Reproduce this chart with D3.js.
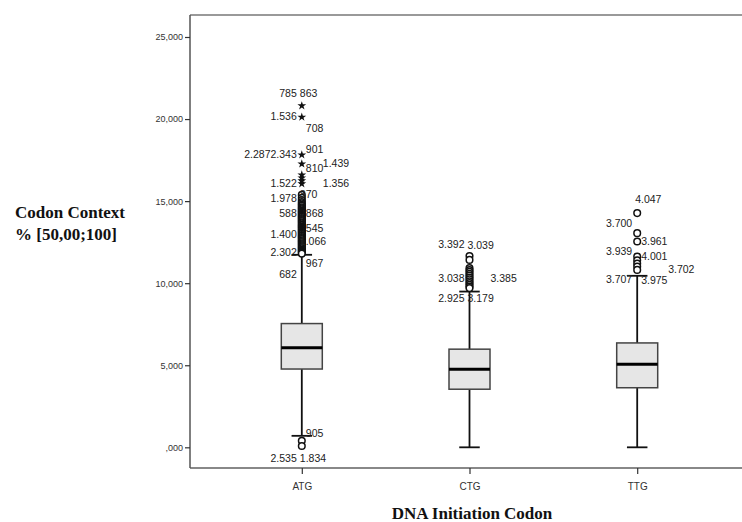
<!DOCTYPE html>
<html lang="en">
<head>
  <meta charset="UTF-8">
  <title>Codon Context boxplot</title>
  <script src="https://d3js.org/d3.v7.min.js"></script>
  <style>
    body {
      margin: 0;
      background-color: #ffffff;
    }
    svg text {
      font-family: "Liberation Sans", Arial, sans-serif;
      fill: #222;
    }
    .axis-title {
      font-family: "Liberation Serif", "Times New Roman", serif !important;
      font-weight: bold;
      font-size: 17px;
      fill: #111;
    }
  </style>
</head>
<body>
  <div id="chart"></div>

  <script>
    // values are in % units (25,000 = 25.000)
    const categories = ["ATG", "CTG", "TTG"];
    const whiskerLow = [0.70, 0, 0];
    const q1 = [4.77, 3.54, 3.63];
    const median = [6.07, 4.76, 5.06];
    const q3 = [7.54, 5.98, 6.36];
    const whiskerHigh = [11.73, 9.49, 10.45];

    const tickValues = [0, 5, 10, 15, 20, 25];
    const tickLabels = [",000", "5,000", "10,000", "15,000", "20,000", "25,000"];

    // circles (outliers)
    const outliersATG = [15.38, 15.21, 15.07, 14.95, 14.86, 14.78, 14.71, 14.63, 14.57, 14.50, 14.43,
      14.36, 14.30, 14.23, 14.17, 14.10, 14.04, 13.97, 13.91, 13.84, 13.78, 13.71, 13.65, 13.58,
      13.52, 13.45, 13.39, 13.33, 13.26, 13.20, 13.13, 13.07, 13.01, 12.94, 12.88, 12.81, 12.75,
      12.69, 12.62, 12.56, 12.50, 12.43, 12.37, 12.31, 12.24, 12.18, 12.12, 12.05, 11.99, 11.93,
      11.86, 11.80, 0.40, 0.08];
    const outliersCTG = [11.66, 11.42, 10.92, 10.80, 10.69, 10.57, 10.46, 10.35, 10.24, 10.12,
      10.01, 9.90, 9.79, 9.70];
    const outliersTTG = [14.27, 13.05, 12.54, 11.62, 11.40, 11.20, 11.01, 10.81];
    // stars (extremes)
    const extremesATG = [20.81, 20.12, 17.82, 17.27, 16.60, 16.42, 16.25, 16.06];

    // case labels: [category, value, text, side]
    const caseLabels = [
      ["ATG", 21.36, "785", "L"], ["ATG", 21.36, "863", "C"],
      ["ATG", 19.96, "1.536", "L"], ["ATG", 19.23, "708", "R"],
      ["ATG", 17.64, "2.2872.343", "L"], ["ATG", 17.95, "901", "R"],
      ["ATG", 16.79, "810", "R"], ["ATG", 17.05, "1.439", "R2"],
      ["ATG", 15.87, "1.522", "L"], ["ATG", 15.87, "1.356", "R2"],
      ["ATG", 14.96, "1.978", "L"], ["ATG", 15.20, "870", "C"],
      ["ATG", 14.04, "588", "L"], ["ATG", 14.04, "868", "R"],
      ["ATG", 13.13, "545", "R"], ["ATG", 12.76, "1.400", "L"],
      ["ATG", 12.34, "1.066", "C"], ["ATG", 11.67, "2.302", "L"],
      ["ATG", 10.99, "967", "R"], ["ATG", 10.32, "682", "L"],
      ["ATG", 0.63, "905", "R"], ["ATG", -0.90, "2.535", "L"], ["ATG", -0.90, "1.834", "C"],
      ["CTG", 12.13, "3.392", "L"], ["CTG", 12.06, "3.039", "C"],
      ["CTG", 10.06, "3.038", "L"], ["CTG", 10.08, "3.385", "R2"],
      ["CTG", 8.88, "2.925", "L"], ["CTG", 8.88, "3.179", "C"],
      ["TTG", 14.88, "4.047", "C"], ["TTG", 13.45, "3.700", "L"],
      ["TTG", 12.34, "3.961", "R"], ["TTG", 11.73, "3.939", "L"],
      ["TTG", 11.42, "4.001", "R"], ["TTG", 10.04, "3.707", "L"],
      ["TTG", 9.96, "3.975", "R"], ["TTG", 10.61, "3.702", "R3"]
    ];

    const width = 742, height = 522;
    const plotLeft = 190, plotTop = 15, plotBottom = 468;

    const svg = d3.select("#chart").append("svg")
      .attr("width", width)
      .attr("height", height);

    const x = d3.scalePoint().domain(categories).range([plotLeft, 749]).padding(2 / 3);
    const y = d3.scaleLinear().domain([-1.26, 26.34]).range([plotBottom, plotTop]);

    // frame
    svg.append("line").attr("x1", plotLeft).attr("x2", width).attr("y1", plotTop).attr("y2", plotTop)
      .attr("stroke", "#999").attr("stroke-width", 2);
    svg.append("line").attr("x1", plotLeft).attr("x2", width).attr("y1", plotBottom).attr("y2", plotBottom)
      .attr("stroke", "#888").attr("stroke-width", 2);

    // y axis
    const yAxis = svg.append("g")
      .attr("transform", `translate(${plotLeft},0)`)
      .call(d3.axisLeft(y).tickValues(tickValues)
        .tickFormat((d, i) => tickLabels[i]).tickSize(5).tickSizeOuter(0));
    yAxis.select(".domain").attr("stroke", "#555").attr("stroke-width", 1.5)
      .attr("d", `M0,${plotTop}V${plotBottom}`);
    yAxis.selectAll(".tick line").attr("stroke", "#333").attr("stroke-width", 1.2);
    yAxis.selectAll(".tick text").attr("font-size", 9).attr("x", -7)
      .style("fill", "#333").attr("font-family", "Liberation Sans, Arial, sans-serif");

    // x axis
    const xAxis = svg.append("g")
      .attr("transform", `translate(0,${plotBottom})`)
      .call(d3.axisBottom(x).tickSize(6).tickSizeOuter(0));
    xAxis.select(".domain").remove();
    xAxis.selectAll(".tick line").attr("stroke", "#333").attr("stroke-width", 1.2);
    xAxis.selectAll(".tick text").attr("font-size", 10).attr("y", 15)
      .style("fill", "#333").attr("font-family", "Liberation Sans, Arial, sans-serif");

    const boxW = 41;
    const stats = categories.map((c, i) => ({
      cat: c, lo: whiskerLow[i], q1: q1[i], med: median[i], q3: q3[i], hi: whiskerHigh[i]
    }));

    const g = svg.append("g");

    // whiskers
    g.selectAll(".whisker")
      .data(stats).enter().append("line")
      .attr("x1", d => x(d.cat)).attr("x2", d => x(d.cat))
      .attr("y1", d => y(d.lo)).attr("y2", d => y(d.hi))
      .attr("stroke", "#111").attr("stroke-width", 1.8);

    ["lo", "hi"].forEach(k => {
      g.selectAll(".cap-" + k)
        .data(stats).enter().append("line")
        .attr("x1", d => x(d.cat) - boxW / 4).attr("x2", d => x(d.cat) + boxW / 4)
        .attr("y1", d => y(d[k])).attr("y2", d => y(d[k]))
        .attr("stroke", "#111").attr("stroke-width", 1.8);
    });

    // boxes
    g.selectAll(".box")
      .data(stats).enter().append("rect")
      .attr("x", d => x(d.cat) - boxW / 2)
      .attr("y", d => y(d.q3))
      .attr("width", boxW)
      .attr("height", d => y(d.q1) - y(d.q3))
      .attr("fill", "#e6e6e6")
      .attr("stroke", "#444")
      .attr("stroke-width", 1.5);

    g.selectAll(".median")
      .data(stats).enter().append("line")
      .attr("x1", d => x(d.cat) - boxW / 2).attr("x2", d => x(d.cat) + boxW / 2)
      .attr("y1", d => y(d.med)).attr("y2", d => y(d.med))
      .attr("stroke", "#000").attr("stroke-width", 3);

    // outlier circles
    const circles = [
      ...outliersATG.map(v => ({ cat: "ATG", v })),
      ...outliersCTG.map(v => ({ cat: "CTG", v })),
      ...outliersTTG.map(v => ({ cat: "TTG", v }))
    ];
    g.selectAll(".outlier")
      .data(circles).enter().append("circle")
      .attr("cx", d => x(d.cat))
      .attr("cy", d => y(d.v))
      .attr("r", 3.3)
      .attr("fill", "#fff")
      .attr("stroke", "#111")
      .attr("stroke-width", 1.5);

    // extreme stars
    const star = d3.symbol().type(d3.symbolStar).size(24);
    g.selectAll(".extreme")
      .data(extremesATG).enter().append("path")
      .attr("d", star)
      .attr("transform", d => `translate(${x("ATG")},${y(d)})`)
      .attr("fill", "#111");

    // case labels
    const sideOffset = { L: -5, C: -2, R: 4, R2: 21, R3: 31 };
    g.selectAll(".case-label")
      .data(caseLabels).enter().append("text")
      .attr("x", d => x(d[0]) + sideOffset[d[3]])
      .attr("y", d => y(d[1]))
      .attr("text-anchor", d => d[3] === "L" ? "end" : "start")
      .attr("font-size", 10.5)
      .text(d => d[2]);

    // axis titles
    svg.append("text").attr("class", "axis-title")
      .attr("x", 70).attr("y", 218).attr("text-anchor", "middle")
      .text("Codon Context");
    svg.append("text").attr("class", "axis-title")
      .attr("x", 66).attr("y", 240).attr("text-anchor", "middle")
      .text("% [50,00;100]");
    svg.append("text").attr("class", "axis-title")
      .attr("x", 472).attr("y", 519).attr("text-anchor", "middle")
      .text("DNA Initiation Codon");
  </script>
</body>
</html>
